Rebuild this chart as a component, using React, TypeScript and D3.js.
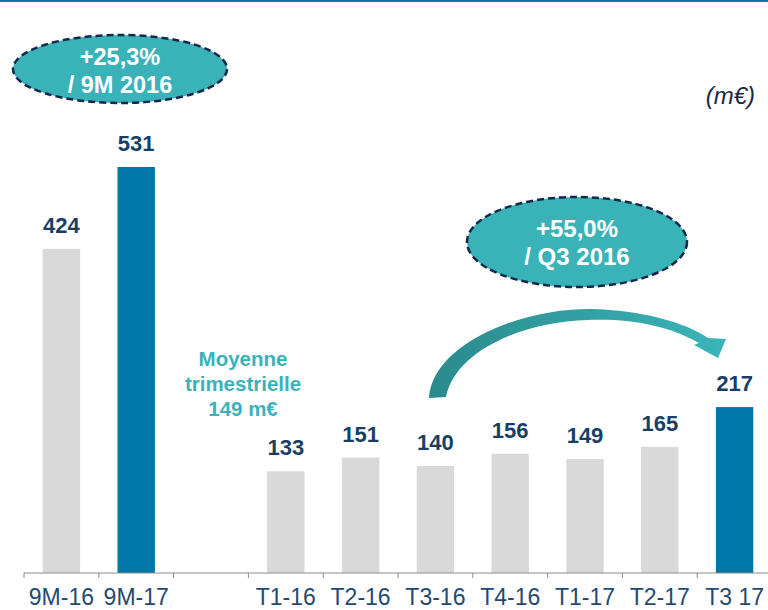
import * as React from "react";
import { useRef, useEffect } from "react";
import * as d3 from "d3";

// categories (the empty slot separates the 9M totals from the quarters)
const categories = ["9M-16", "9M-17", "gap", "T1-16", "T2-16", "T3-16", "T4-16", "T1-17", "T2-17", "T3 17"];
const tickLabels = ["9M-16", "9M-17", "", "T1-16", "T2-16", "T3-16", "T4-16", "T1-17", "T2-17", "T3 17"];
const values = [424, 531, null, 133, 151, 140, 156, 149, 165, 217];
const highlighted = ["9M-17", "T3 17"];

const avgLines = ["Moyenne", "trimestrielle", "149 m€"];

const FONT = "'Liberation Sans', Arial, sans-serif";

const App = () => {
  const svgRef = useRef(null);

  useEffect(() => {
    const W = 768;
    const H = 610;
    const axisY = 573;

    const svg = d3.select(svgRef.current).attr("width", W).attr("height", H);
    svg.selectAll("*").remove();

    const x = d3.scaleBand().domain(categories).range([24, 772]);
    const y = d3.scaleLinear().domain([0, 531]).range([axisY, 167]);
    const bw = x.bandwidth() * 0.5;

    const data = categories
      .map((c, i) => ({ cat: c, value: values[i] }))
      .filter((d) => d.value !== null);

    // top rule
    svg.append("line")
      .attr("x1", 0).attr("x2", W)
      .attr("y1", 1).attr("y2", 1)
      .attr("stroke", "#0077a8")
      .attr("stroke-width", 2);

    // bars
    svg.selectAll("rect.bar")
      .data(data)
      .enter()
      .append("rect")
      .attr("class", "bar")
      .attr("x", (d) => x(d.cat) + (x.bandwidth() - bw) / 2)
      .attr("y", (d) => y(d.value))
      .attr("width", bw)
      .attr("height", (d) => axisY - y(d.value))
      .attr("fill", (d) => (highlighted.includes(d.cat) ? "#0077a8" : "#d9d9d9"));

    // value labels
    svg.selectAll("text.val")
      .data(data)
      .enter()
      .append("text")
      .attr("class", "val")
      .attr("x", (d) => x(d.cat) + x.bandwidth() / 2)
      .attr("y", (d) => y(d.value) - 16)
      .attr("text-anchor", "middle")
      .attr("font-family", FONT)
      .attr("font-weight", "bold")
      .attr("font-size", 22)
      .attr("fill", "#173f66")
      .text((d) => d.value);

    // x axis
    const axis = svg.append("g")
      .attr("transform", `translate(0,${axisY})`)
      .call(d3.axisBottom(x).tickSize(0).tickFormat((_, i) => tickLabels[i]));
    axis.select(".domain").remove();
    axis.selectAll("text")
      .attr("y", 32)
      .attr("dy", 0)
      .attr("font-family", FONT)
      .attr("font-size", 23)
      .attr("fill", "#1f4a73");
    svg.append("line")
      .attr("x1", x.range()[0]).attr("x2", W)
      .attr("y1", axisY).attr("y2", axisY)
      .attr("stroke", "#8c8c8c")
      .attr("stroke-width", 1);
    svg.selectAll("line.tick")
      .data(categories)
      .enter()
      .append("line")
      .attr("class", "tick")
      .attr("x1", (d) => x(d)).attr("x2", (d) => x(d))
      .attr("y1", axisY).attr("y2", axisY + 5)
      .attr("stroke", "#8c8c8c")
      .attr("stroke-width", 1);

    // unit
    svg.append("text")
      .attr("x", 755).attr("y", 104)
      .attr("text-anchor", "end")
      .attr("font-family", FONT)
      .attr("font-style", "italic")
      .attr("font-size", 24)
      .attr("fill", "#1a2a40")
      .text("(m€)");

    // average note
    const xAvg = x("gap") + x.bandwidth() / 2 + 32;
    svg.append("text")
      .attr("text-anchor", "middle")
      .attr("font-family", FONT)
      .attr("font-weight", "bold")
      .attr("font-size", 20.5)
      .attr("fill", "#3ab3b8")
      .selectAll("tspan")
      .data(avgLines)
      .enter()
      .append("tspan")
      .attr("x", xAvg)
      .attr("y", (_, i) => 366 + i * 25)
      .text((d) => d);

    // bubbles
    const bubble = (cx, cy, rx, ry, lines, fs, y0, dy) => {
      svg.append("ellipse")
        .attr("cx", cx).attr("cy", cy)
        .attr("rx", rx).attr("ry", ry)
        .attr("fill", "#3ab3b8")
        .attr("stroke", "#13294b")
        .attr("stroke-width", 2.5)
        .attr("stroke-dasharray", "7,4");
      svg.append("text")
        .attr("text-anchor", "middle")
        .attr("font-family", FONT)
        .attr("font-weight", "bold")
        .attr("font-size", fs)
        .attr("fill", "#ffffff")
        .selectAll("tspan")
        .data(lines)
        .enter()
        .append("tspan")
        .attr("x", cx)
        .attr("y", (_, i) => y0 + i * dy)
        .text((d) => d);
    };
    bubble(120, 69, 107, 34, ["+25,3%", "/ 9M 2016"], 23.5, 65, 28);
    bubble(577, 242, 110, 45, ["+55,0%", "/ Q3 2016"], 24, 237, 28);

    // curved arrow
    const defs = svg.append("defs");
    const grad = defs.append("linearGradient")
      .attr("id", "arrowGrad")
      .attr("x1", "0%").attr("x2", "100%")
      .attr("y1", "0%").attr("y2", "0%");
    grad.append("stop").attr("offset", "0%").attr("stop-color", "#2a8a8c");
    grad.append("stop").attr("offset", "100%").attr("stop-color", "#3ab5ba");

    const p = d3.path();
    p.moveTo(429, 398);
    p.bezierCurveTo(432, 345, 520, 308, 592, 309);
    p.bezierCurveTo(640, 310, 685, 322, 708, 338);
    p.lineTo(726, 339);
    p.lineTo(718, 358);
    p.lineTo(694, 345);
    p.lineTo(699, 343);
    p.bezierCurveTo(670, 326, 630, 318, 588, 320);
    p.bezierCurveTo(520, 322, 455, 352, 446, 397);
    p.closePath();
    svg.append("path")
      .attr("d", p.toString())
      .attr("fill", "url(#arrowGrad)");
  }, []);

  return (
    <svg
      ref={svgRef}
      style={{ position: "absolute", left: 0, top: 0, display: "block", background: "#fff" }}
    ></svg>
  );
};

export default App;
